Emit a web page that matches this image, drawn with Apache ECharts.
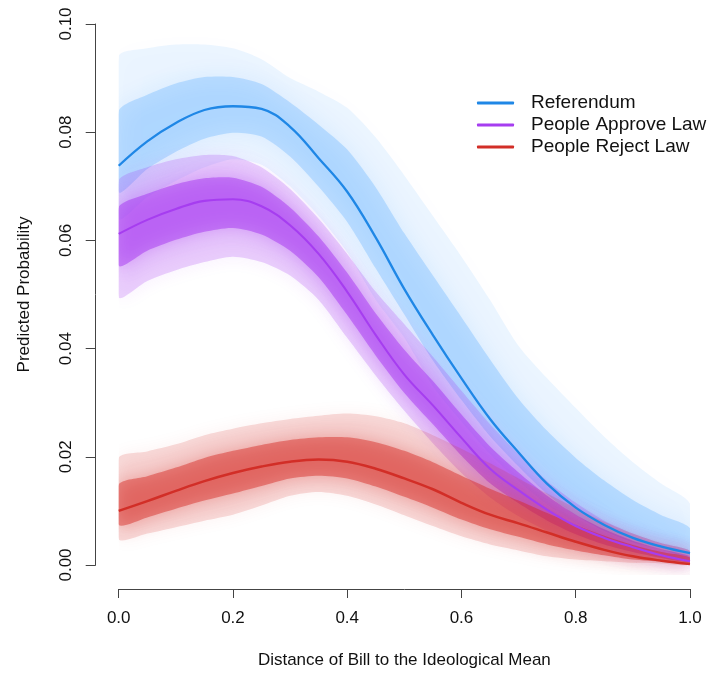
<!DOCTYPE html>
<html>
<head>
<meta charset="utf-8">
<script src="https://cdn.jsdelivr.net/npm/echarts@6/dist/echarts.min.js"></script>
<style>
  html, body { margin: 0; padding: 0; background: #fff; }
  #chart { width: 709px; height: 674px; }
</style>
</head>
<body>
<div id="chart"></div>
<script>
// Distance of bill to the ideological mean (evaluation grid)
const xs = [0, 0.05, 0.1, 0.15, 0.2, 0.25, 0.3, 0.35, 0.4, 0.45, 0.5,
            0.55, 0.6, 0.65, 0.7, 0.75, 0.8, 0.85, 0.9, 0.95, 1];

// Referendum: mean prediction and spread of the simulated curves
const refMean    = [.0738, .0783, .0817, .0841, .0848, .0843, .0810, .0752, .0690, .0605, .0510, .0425, .0345, .0270, .0208, .0150, .0106, .0074, .0050, .0034, .0022];
const refOuterHi = [.0940, .0955, .0962, .0962, .0955, .0935, .0900, .0875, .0845, .0790, .0720, .0645, .0570, .0490, .0405, .0345, .0290, .0237, .0190, .0150, .0113];
const refOuterLo = [.0640, .0680, .0710, .0735, .0750, .0740, .0700, .0645, .0578, .0490, .0420, .0330, .0265, .0205, .0155, .0112, .0078, .0052, .0034, .0022, .0012];
const refInnerHi = [.0839, .0869, .0890, .0902, .0902, .0889, .0855, .0814, .0768, .0698, .0613, .0535, .0458, .0380, .0307, .0248, .0198, .0156, .0120, .0092, .0068];
const refInnerLo = [.0689, .0732, .0764, .0788, .0799, .0792, .0755, .0699, .0634, .0548, .0463, .0378, .0305, .0238, .0182, .0131, .0092, .0063, .0042, .0028, .0017];

// People approve law
const appMean    = [.0612, .0638, .0658, .0673, .0676, .0663, .0628, .0575, .0505, .0425, .0352, .0295, .0235, .0178, .0138, .0102, .0072, .0050, .0033, .0018, .0007];
const appOuterHi = [.0710, .0735, .0750, .0758, .0756, .0735, .0695, .0640, .0575, .0505, .0445, .0385, .0322, .0260, .0205, .0155, .0115, .0082, .0058, .0040, .0026];
const appOuterLo = [.0495, .0525, .0545, .0560, .0570, .0560, .0535, .0490, .0420, .0350, .0285, .0225, .0170, .0125, .0090, .0063, .0042, .0027, .0016, .0009, .0004];
const appInnerHi = [.0661, .0686, .0704, .0715, .0716, .0699, .0661, .0607, .0540, .0465, .0398, .0340, .0278, .0219, .0171, .0128, .0093, .0066, .0045, .0029, .0016];
const appInnerLo = [.0553, .0581, .0601, .0616, .0623, .0611, .0581, .0532, .0462, .0387, .0318, .0260, .0202, .0151, .0114, .0082, .0057, .0038, .0024, .0013, .0005];

// People reject law
const rejMean    = [.0100, .0118, .0137, .0155, .0170, .0182, .0191, .0195, .0191, .0178, .0160, .0140, .0115, .0093, .0077, .0060, .0043, .0028, .0016, .0008, .0002];
const rejOuterHi = [.0198, .0210, .0223, .0240, .0252, .0262, .0270, .0276, .0280, .0275, .0262, .0240, .0215, .0188, .0160, .0132, .0105, .0080, .0058, .0040, .0026];
const rejOuterLo = [.0048, .0058, .0070, .0082, .0093, .0110, .0128, .0135, .0128, .0112, .0092, .0072, .0053, .0038, .0027, .0016, .0010, .0007, .0004, .0003, .0001];
const rejInnerHi = [.0149, .0164, .0180, .0198, .0211, .0222, .0231, .0236, .0236, .0227, .0211, .0190, .0165, .0141, .0119, .0096, .0074, .0054, .0037, .0024, .0014];
const rejInnerLo = [.0074, .0088, .0104, .0119, .0132, .0146, .0160, .0165, .0160, .0145, .0126, .0106, .0084, .0066, .0052, .0038, .0027, .0018, .0010, .0006, .0002];

const seriesNames = ['Referendum', 'People Approve Law', 'People Reject Law'];
const xTicks = [0, 0.2, 0.4, 0.6, 0.8, 1.0];
const yTicks = [0, 0.02, 0.04, 0.06, 0.08, 0.10];

const FONT = '"Liberation Sans", Arial, Helvetica, sans-serif';
const COLORS = {
  ref: { line: '#1F87E6', band: '30,144,255' },
  app: { line: '#A63DF0', band: '160,40,240' },
  rej: { line: '#D22E27', band: '212,38,32' }
};

// Filled band between a lower and an upper curve, placed through the axes.
// A same-coloured shadow feathers its edges; the group clip keeps the
// feathering inside the x range of the plot.
function band(lo, hi, rgb, alpha, blur, glow) {
  return {
    type: 'custom',
    coordinateSystem: 'cartesian2d',
    silent: true,
    data: [[0, 0]],
    encode: { x: 0, y: 1 },
    z: 1,
    renderItem: function (params, api) {
      const cs = params.coordSys;
      const pts = [];
      for (let i = 0; i < xs.length; i++) pts.push(api.coord([xs[i], hi[i]]));
      for (let i = xs.length - 1; i >= 0; i--) pts.push(api.coord([xs[i], lo[i]]));
      return {
        type: 'group',
        clipPath: { type: 'rect', shape: { x: cs.x, y: cs.y - 30, width: cs.width, height: cs.height + 40 } },
        children: [{
          type: 'polygon',
          shape: { points: pts, smooth: 0.25 },
          style: {
            fill: 'rgba(' + rgb + ',' + alpha + ')',
            shadowBlur: blur,
            shadowColor: 'rgba(' + rgb + ',' + glow + ')'
          }
        }]
      };
    }
  };
}

function meanLine(name, values, color, width) {
  return {
    name: name,
    type: 'line',
    data: xs.map((x, i) => [x, values[i]]),
    showSymbol: false,
    symbol: 'none',
    smooth: 0.4,
    z: 5,
    color: color,
    lineStyle: { color: color, width: width },
    itemStyle: { color: color }
  };
}

const chart = echarts.init(document.getElementById('chart'), null, { renderer: 'canvas' });

chart.setOption({
  animation: false,
  backgroundColor: '#ffffff',
  textStyle: { fontFamily: FONT },
  grid: { left: 118.7, right: 19, top: 24, bottom: 106, containLabel: false },
  legend: {
    data: seriesNames,
    orient: 'vertical',
    left: 477,
    top: 92,
    padding: 0,
    itemGap: 0,
    itemWidth: 37,
    itemHeight: 3,
    icon: 'roundRect',
    selectedMode: false,
    textStyle: { fontFamily: FONT, fontSize: 19, color: '#111', lineHeight: 22, padding: [0, 0, 0, 12] }
  },
  xAxis: {
    type: 'value',
    min: 0, max: 1, interval: 0.2,
    offset: 24,
    name: 'Distance of Bill to the Ideological Mean',
    nameLocation: 'middle',
    nameGap: 63,
    nameTextStyle: { fontFamily: FONT, fontSize: 17, color: '#111' },
    axisLine: { show: true, onZero: false, lineStyle: { color: '#444', width: 1 } },
    axisTick: { show: true, length: 9, lineStyle: { color: '#444', width: 1 } },
    axisLabel: {
      margin: 21, fontFamily: FONT, fontSize: 17, color: '#111',
      formatter: v => xTicks.some(t => Math.abs(t - v) < 1e-9) ? v.toFixed(1) : ''
    },
    splitLine: { show: false }
  },
  yAxis: {
    type: 'value',
    min: 0, max: 0.1, interval: 0.02,
    offset: 23,
    name: 'Predicted Probability',
    nameLocation: 'middle',
    nameGap: 63,
    nameRotate: 90,
    nameTextStyle: { fontFamily: FONT, fontSize: 17, color: '#111' },
    axisLine: { show: true, onZero: false, lineStyle: { color: '#444', width: 1 } },
    axisTick: { show: true, length: 10, lineStyle: { color: '#444', width: 1 } },
    axisLabel: {
      rotate: 90, margin: 21, fontFamily: FONT, fontSize: 17, color: '#111',
      formatter: v => yTicks.some(t => Math.abs(t - v) < 1e-9) ? v.toFixed(2) : ''
    },
    splitLine: { show: false }
  },
  series: [
    band(refOuterLo, refOuterHi, COLORS.ref.band, 0.08, 22, 0.2),
    band(refInnerLo, refInnerHi, COLORS.ref.band, 0.22, 22, 0.4),
    band(appOuterLo, appOuterHi, COLORS.app.band, 0.2, 18, 0.4),
    band(appInnerLo, appInnerHi, COLORS.app.band, 0.45, 18, 0.7),
    band(rejOuterLo, rejOuterHi, COLORS.rej.band, 0.16, 18, 0.35),
    band(rejInnerLo, rejInnerHi, COLORS.rej.band, 0.45, 18, 0.7),
    meanLine(seriesNames[0], refMean, COLORS.ref.line, 2.3),
    meanLine(seriesNames[1], appMean, COLORS.app.line, 2.1),
    meanLine(seriesNames[2], rejMean, COLORS.rej.line, 2.5)
  ]
});
</script>
</body>
</html>
